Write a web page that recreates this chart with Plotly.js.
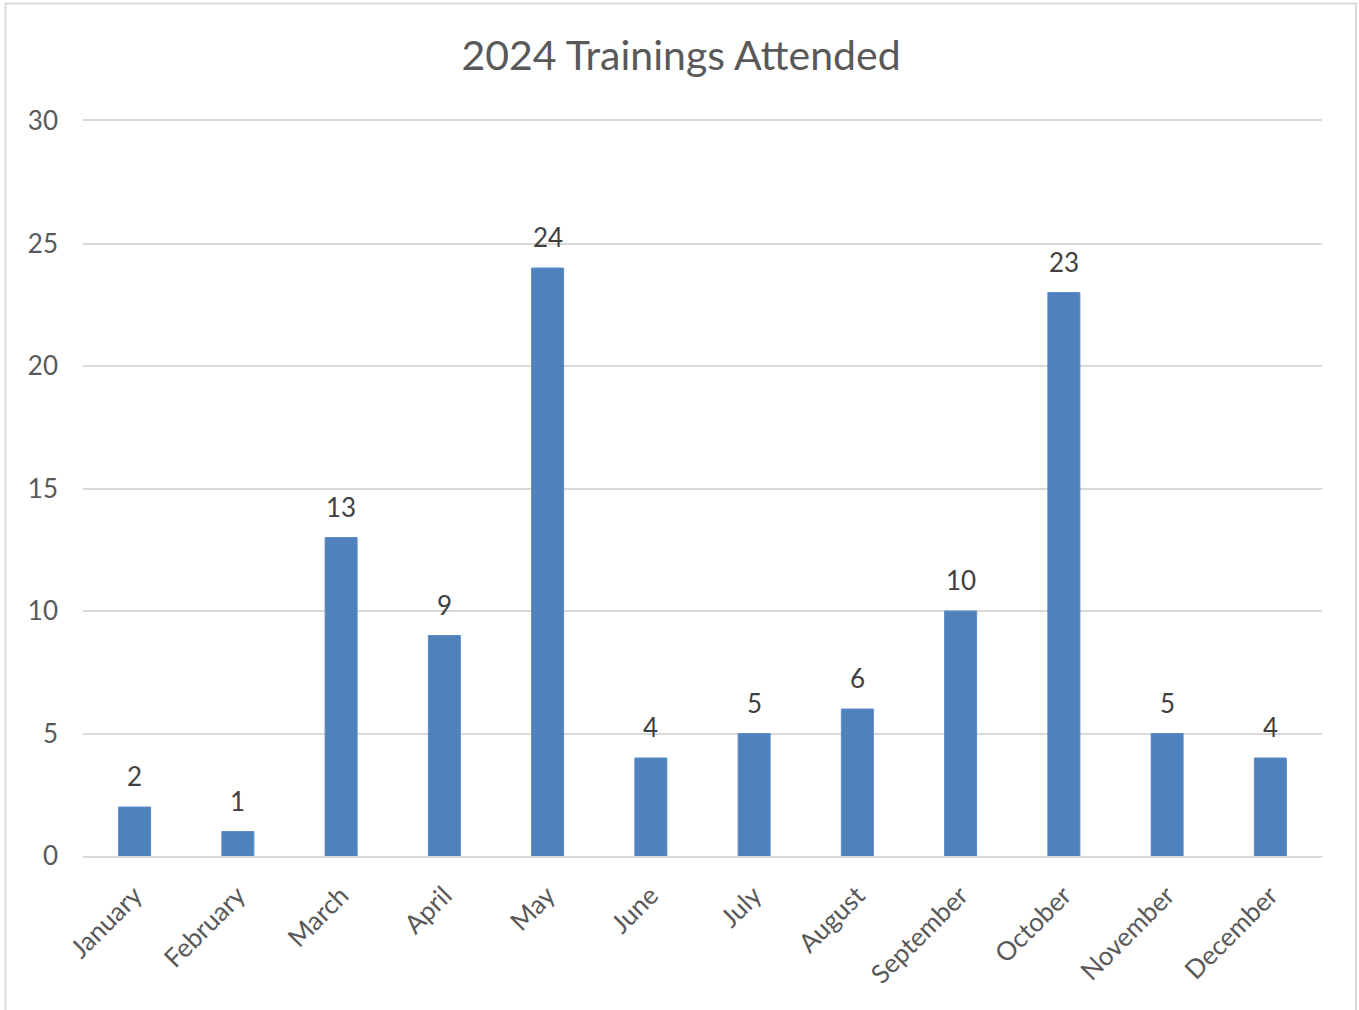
<!DOCTYPE html>
<html>
<head>
<meta charset="utf-8">
<script src="https://cdn.plot.ly/plotly-3.0.1.min.js"></script>
<style>html,body{margin:0;padding:0;background:#fff;}#chart{width:1359px;height:1010px;}</style>
</head>
<body>
<div id="chart"></div>
<script>
const months = ["January","February","March","April","May","June","July","August","September","October","November","December"];
const trainings = [2,1,13,9,24,4,5,6,10,23,5,4];
const yTicks = [0,5,10,15,20,25,30];
const chartTitle = "2024 Trainings Attended";

const W = 1359, H = 1010;
const m = {l:83, r:37, t:121, b:154};
const pw = W - m.l - m.r, ph = H - m.t - m.b;
const px = v => (v - m.l) / pw;
const py = v => (H - m.b - v) / ph;

const font = "Lato, 'Open Sans', 'Liberation Sans', sans-serif";

const labels = months.map((mo, i) => ({
  x: mo, y: trainings[i], xref: 'x', yref: 'y',
  text: String(trainings[i]), showarrow: false,
  yanchor: 'bottom', yshift: 13,
  font: {family: font, size: 26, color: '#404040'}
}));

Plotly.newPlot('chart', [{
  type: 'bar',
  x: months,
  y: trainings,
  marker: {color: '#4F81BD', line: {color: '#5B8CC6', width: 1}},
  hoverinfo: 'x+y'
}], {
  width: W, height: H,
  margin: m,
  paper_bgcolor: '#fff', plot_bgcolor: '#fff',
  bargap: 0.69,
  showlegend: false,
  title: {text: chartTitle, x: 681/W, xref: 'container', xanchor: 'center',
          y: 1 - 56/H, yref: 'container', yanchor: 'middle',
          font: {family: font, size: 41, color: '#595959'}},
  xaxis: {
    tickangle: -45,
    tickfont: {family: font, size: 26, color: '#595959'},
    showgrid: false, zeroline: false,
    showline: true, mirror: true, linecolor: '#D9D9D9', linewidth: 2,
    ticks: '',
    ticklabelstandoff: 12
  },
  yaxis: {
    range: [0, 30],
    tickvals: yTicks,
    ticktext: yTicks.map(String),
    tickfont: {family: font, size: 26, color: '#595959'},
    showgrid: true, gridcolor: '#D9D9D9', gridwidth: 2,
    zeroline: false,
    showline: false, ticks: '',
    ticklabelstandoff: 24
  },
  annotations: labels,
  shapes: [{
    type: 'rect', xref: 'paper', yref: 'paper',
    x0: px(5.5), x1: px(1356), y0: py(1020), y1: py(3.5),
    line: {color: '#D9D9D9', width: 2}, fillcolor: 'rgba(0,0,0,0)', layer: 'below'
  }]
}, {displayModeBar: false});
</script>
</body>
</html>
